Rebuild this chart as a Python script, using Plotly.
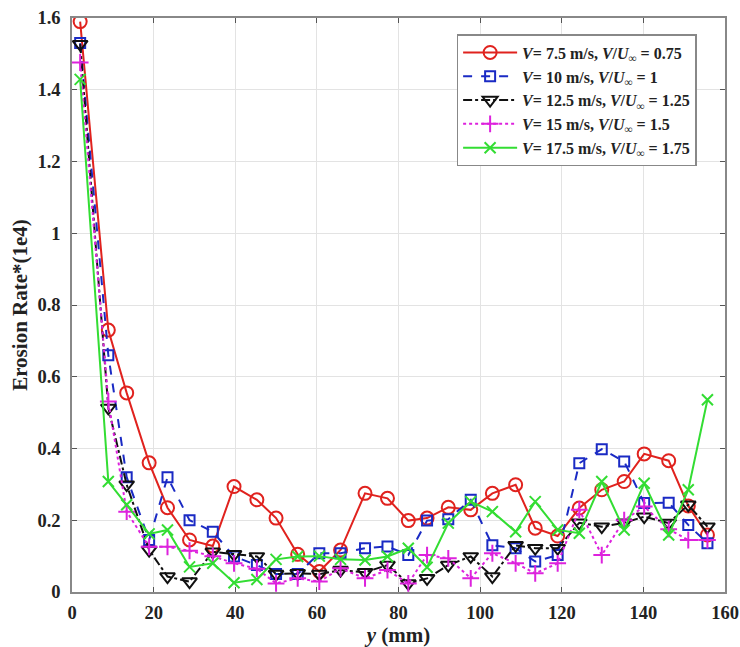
import plotly.graph_objects as go

x_mm = [2, 8.9, 13.4, 18.9, 23.4, 28.8, 34.5, 39.7, 45.3, 50.0, 55.3, 60.6, 65.8, 71.8, 77.3,
        82.4, 87.0, 92.2, 97.7, 103.0, 108.7, 113.5, 119.0, 124.3, 129.8, 135.3, 140.2, 146.2, 151.0, 155.7]

v75 = [1.59, 0.73, 0.555, 0.36, 0.235, 0.145, 0.128, 0.294, 0.257, 0.206, 0.105, 0.057, 0.117, 0.275, 0.261,
       0.199, 0.206, 0.236, 0.229, 0.275, 0.299, 0.178, 0.156, 0.234, 0.285, 0.308, 0.385, 0.366, 0.24, 0.159]
v10 = [1.53, 0.66, 0.32, 0.145, 0.32, 0.2, 0.168, 0.099, 0.075, 0.05, 0.05, 0.108, 0.108, 0.122, 0.127,
       0.103, 0.199, 0.203, 0.257, 0.13, 0.122, 0.085, 0.103, 0.359, 0.398, 0.364, 0.248, 0.249, 0.187, 0.136]
v125 = [1.527, 0.513, 0.299, 0.117, 0.043, 0.029, 0.112, 0.105, 0.099, 0.05, 0.052, 0.05, 0.061, 0.055, 0.075,
        0.024, 0.038, 0.075, 0.099, 0.043, 0.13, 0.122, 0.122, 0.193, 0.182, 0.193, 0.21, 0.192, 0.243, 0.182]
v15 = [1.476, 0.531, 0.224, 0.126, 0.126, 0.115, 0.1, 0.08, 0.065, 0.024, 0.038, 0.029, 0.066, 0.038, 0.061,
       0.024, 0.103, 0.094, 0.038, 0.108, 0.08, 0.052, 0.08, 0.229, 0.103, 0.2, 0.238, 0.175, 0.145, 0.145]
v175 = [1.429, 0.308, 0.243, 0.162, 0.173, 0.07, 0.08, 0.026, 0.035, 0.091, 0.099, 0.1, 0.091, 0.089, 0.099,
        0.122, 0.069, 0.192, 0.252, 0.224, 0.168, 0.252, 0.173, 0.164, 0.308, 0.173, 0.303, 0.159, 0.285, 0.536]

labels = [
    "<b><i>V</i>= 7.5 m/s, <i>V</i>/<i>U</i><sub>∞</sub> = 0.75</b>",
    "<b><i>V</i>= 10 m/s, <i>V</i>/<i>U</i><sub>∞</sub> = 1</b>",
    "<b><i>V</i>= 12.5 m/s, <i>V</i>/<i>U</i><sub>∞</sub> = 1.25</b>",
    "<b><i>V</i>= 15 m/s, <i>V</i>/<i>U</i><sub>∞</sub> = 1.5</b>",
    "<b><i>V</i>= 17.5 m/s, <i>V</i>/<i>U</i><sub>∞</sub> = 1.75</b>",
]

x_ticks = [0, 20, 40, 60, 80, 100, 120, 140, 160]
y_ticks = [0, 0.2, 0.4, 0.6, 0.8, 1.0, 1.2, 1.4, 1.6]
y_ticktext = ["0", "0.2", "0.4", "0.6", "0.8", "1", "1.2", "1.4", "1.6"]

styles = [
    dict(color="#e0221e", dash="solid", symbol="circle-open", size=13),
    dict(color="#1a2ac4", dash="dash", symbol="square-open", size=10),
    dict(color="#111111", dash="dashdot", symbol="triangle-down-open", size=13),
    dict(color="#dd22dd", dash="dot", symbol="cross-thin-open", size=12),
    dict(color="#33dd33", dash="solid", symbol="x-thin-open", size=11),
]

fig = go.Figure()
for ys, lab, st in zip([v75, v10, v125, v15, v175], labels, styles):
    fig.add_trace(go.Scatter(
        x=x_mm, y=ys, mode="lines+markers", name=lab,
        line=dict(color=st["color"], width=2, dash=st["dash"]),
        marker=dict(symbol=st["symbol"], size=st["size"], color=st["color"],
                    line=dict(color=st["color"], width=2)),
    ))

tickfont = dict(family="Liberation Serif", size=18.5, color="#222222", weight="bold")
titlefont = dict(family="Liberation Serif", size=21, color="#222222")
fig.update_layout(
    width=740, height=647,
    margin=dict(l=72, r=15, t=18, b=55),
    paper_bgcolor="white", plot_bgcolor="white",
    font=dict(family="Liberation Serif", color="#222222"),
    showlegend=True,
    legend=dict(x=0.589, y=0.972, xanchor="left", yanchor="top",
                bgcolor="white", bordercolor="#888888", borderwidth=1.5,
                font=dict(family="Liberation Serif", size=16, color="#222222"),
                tracegroupgap=0, itemwidth=54),
    xaxis=dict(range=[0, 160], tickvals=x_ticks, automargin=False,
               showgrid=True, gridcolor="#e3e3e3", gridwidth=1,
               showline=True, linecolor="#888888", linewidth=1.5, mirror="ticks",
               ticks="inside", ticklen=5, tickcolor="#555555",
               tickfont=tickfont, zeroline=False, ticklabelstandoff=3,
               title=dict(text="<b><i>y</i> (mm)</b>", font=titlefont, standoff=1)),
    yaxis=dict(range=[0, 1.6], tickvals=y_ticks, ticktext=y_ticktext, automargin=False,
               showgrid=True, gridcolor="#e3e3e3", gridwidth=1,
               showline=True, linecolor="#888888", linewidth=1.5, mirror="ticks",
               ticks="inside", ticklen=5, tickcolor="#555555",
               tickfont=tickfont, zeroline=False, ticklabelstandoff=6,
               title=dict(text="<b>Erosion Rate*(1e4)</b>", font=titlefont, standoff=4)),
)

fig.write_html("out.html",
               config={"displayModeBar": False},
               post_script="document.body.style.margin='0';document.body.style.padding='0';document.body.style.overflow='hidden';")
